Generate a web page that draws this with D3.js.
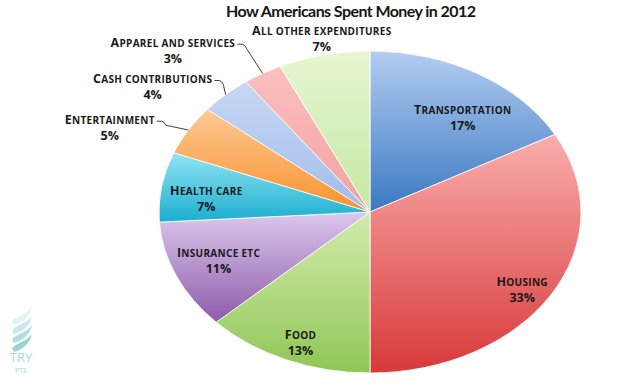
<!DOCTYPE html>
<html>
<head>
<meta charset="utf-8">
<script src="https://cdn.jsdelivr.net/npm/d3@7"></script>
<style>
  body { margin: 0; background: #fff; }
  svg { display: block; font-family: "Open Sans", "DejaVu Sans", sans-serif; }
  .lbl { font-weight: bold; fill: #1a1a1a; }
</style>
</head>
<body>
<div id="chart"></div>
<script>
'use strict'

// data
let categories = ["Transportation", "Housing", "Food", "Insurance etc", "Health care",
  "Entertainment", "Cash contributions", "Apparel and services", "All other expenditures"]
let shares = [17, 33, 13, 11, 7, 5, 4, 3, 7]

// colours: top and bottom of each slice's gradient
let colorsTop = ["#b3cdf1", "#f9aeac", "#d3ecae", "#dcc8ec", "#92e4f3", "#fdc995", "#c6d8f4", "#fbc0c0", "#e6f6d2"]
let colorsBottom = ["#3a79c2", "#d8393a", "#8fc655", "#8c5cab", "#1aaecf", "#f7922b", "#a2bbea", "#f4a0a0", "#c6e8a2"]

// label layout: angle (deg, clockwise from top) and radius factor
let labelAngle = [37, 124, 202, 247, 276, 293, 307, 317, 348]
let labelK = [0.73, 0.87, 0.88, 0.78, 0.78, 1.34, 1.29, 1.37, 1.10]
let leader = [false, false, false, false, false, true, true, true, false]

let width = 626
let height = 386
let cx = 370, cy = 212
let rx = 211, ry = 161

let svg = d3.select("#chart").append("svg")
  .attr("width", width)
  .attr("height", height)

svg.append("text")
  .attr("x", 351)
  .attr("y", 17)
  .attr("text-anchor", "middle")
  .attr("textLength", 250)
  .style("font-family", "Lato, sans-serif")
  .style("font-size", "16px")
  .style("font-weight", "bold")
  .style("fill", "#151515")
  .text("How Americans Spent Money in 2012")

let defs = svg.append("defs")
shares.forEach(function (d, i) {
  let g = defs.append("linearGradient")
    .attr("id", "grad" + i)
    .attr("x1", 0).attr("y1", 0).attr("x2", 0).attr("y2", 1)
  g.append("stop").attr("offset", "0%").attr("stop-color", colorsTop[i])
  g.append("stop").attr("offset", "100%").attr("stop-color", colorsBottom[i])
})

let pie = d3.pie().sort(null).value(d => d)
let arcs = pie(shares)
let arc = d3.arc().innerRadius(0).outerRadius(rx)

let pieG = svg.append("g")
  .attr("transform", "translate(" + cx + "," + cy + ") scale(1," + (ry / rx) + ")")

pieG.selectAll("path")
  .data(arcs)
  .enter()
  .append("path")
  .attr("d", arc)
  .style("fill", (d, i) => "url(#grad" + i + ")")
  .style("stroke", "#ffffff")
  .style("stroke-width", 0.8)
  .attr("vector-effect", "non-scaling-stroke")

function ellPoint(angDeg, k) {
  let t = angDeg * Math.PI / 180
  return [cx + Math.sin(t) * rx * k, cy - Math.cos(t) * ry * k]
}

// small caps by hand: first letter large, the rest as smaller capitals
function smallCaps(sel, txt) {
  sel.append("tspan").style("font-size", "12.5px").text(txt.charAt(0).toUpperCase())
  sel.append("tspan").style("font-size", "10px").text(txt.slice(1).toUpperCase())
}

// labels
let labels = svg.append("g")
arcs.forEach(function (d, i) {
  let p = ellPoint(labelAngle[i], labelK[i])
  let name = labels.append("text")
    .attr("class", "lbl")
    .attr("x", p[0])
    .attr("y", p[1] - 4)
    .attr("text-anchor", "middle")
    .style("letter-spacing", "0.3px")
  smallCaps(name, categories[i])
  labels.append("text")
    .attr("class", "lbl")
    .attr("x", p[0])
    .attr("y", p[1] + 12)
    .attr("text-anchor", "middle")
    .style("font-size", "12.5px")
    .text(shares[i] + "%")

  if (leader[i]) {
    let bb = name.node().getBBox()
    let sx = bb.x + bb.width + 2
    let sy = bb.y + bb.height / 2 + 2
    let mid = (d.startAngle + d.endAngle) / 2 * 180 / Math.PI
    let e = ellPoint(mid, 1)
    labels.append("path")
      .attr("d", "M" + sx + "," + sy + " L" + (sx + 5) + "," + sy +
        " Q" + (sx + 8) + "," + (sy + 1) + " " + (sx + 9) + "," + (sy + 4) + " L" + e[0] + "," + e[1])
      .style("fill", "none")
      .style("stroke", "#404040")
      .style("stroke-width", 1)
  }
})

// logo
let logo = svg.append("g").attr("transform", "translate(10,305)")
let leafColors = ["#e3f3f3", "#c9e9e9", "#b0dede", "#9ad3d3"]
leafColors.forEach(function (c, i) {
  let y = 8 + i * 9
  logo.append("path")
    .attr("d", "M2," + (y + 8) + " C8," + (y + 2) + " 16," + (y + 2) + " 22," + (y - 6) +
      " C20," + (y + 4) + " 12," + (y + 10) + " 4," + (y + 12) + " Z")
    .style("fill", c)
})
svg.append("text")
  .attr("x", 21).attr("y", 362)
  .attr("text-anchor", "middle")
  .style("font-size", "13px")
  .style("fill", "#a6d8d8")
  .text("TRY")
svg.append("text")
  .attr("x", 21).attr("y", 373)
  .attr("text-anchor", "middle")
  .style("font-size", "7px")
  .style("fill", "#a6d8d8")
  .text("PTE")
</script>
</body>
</html>
